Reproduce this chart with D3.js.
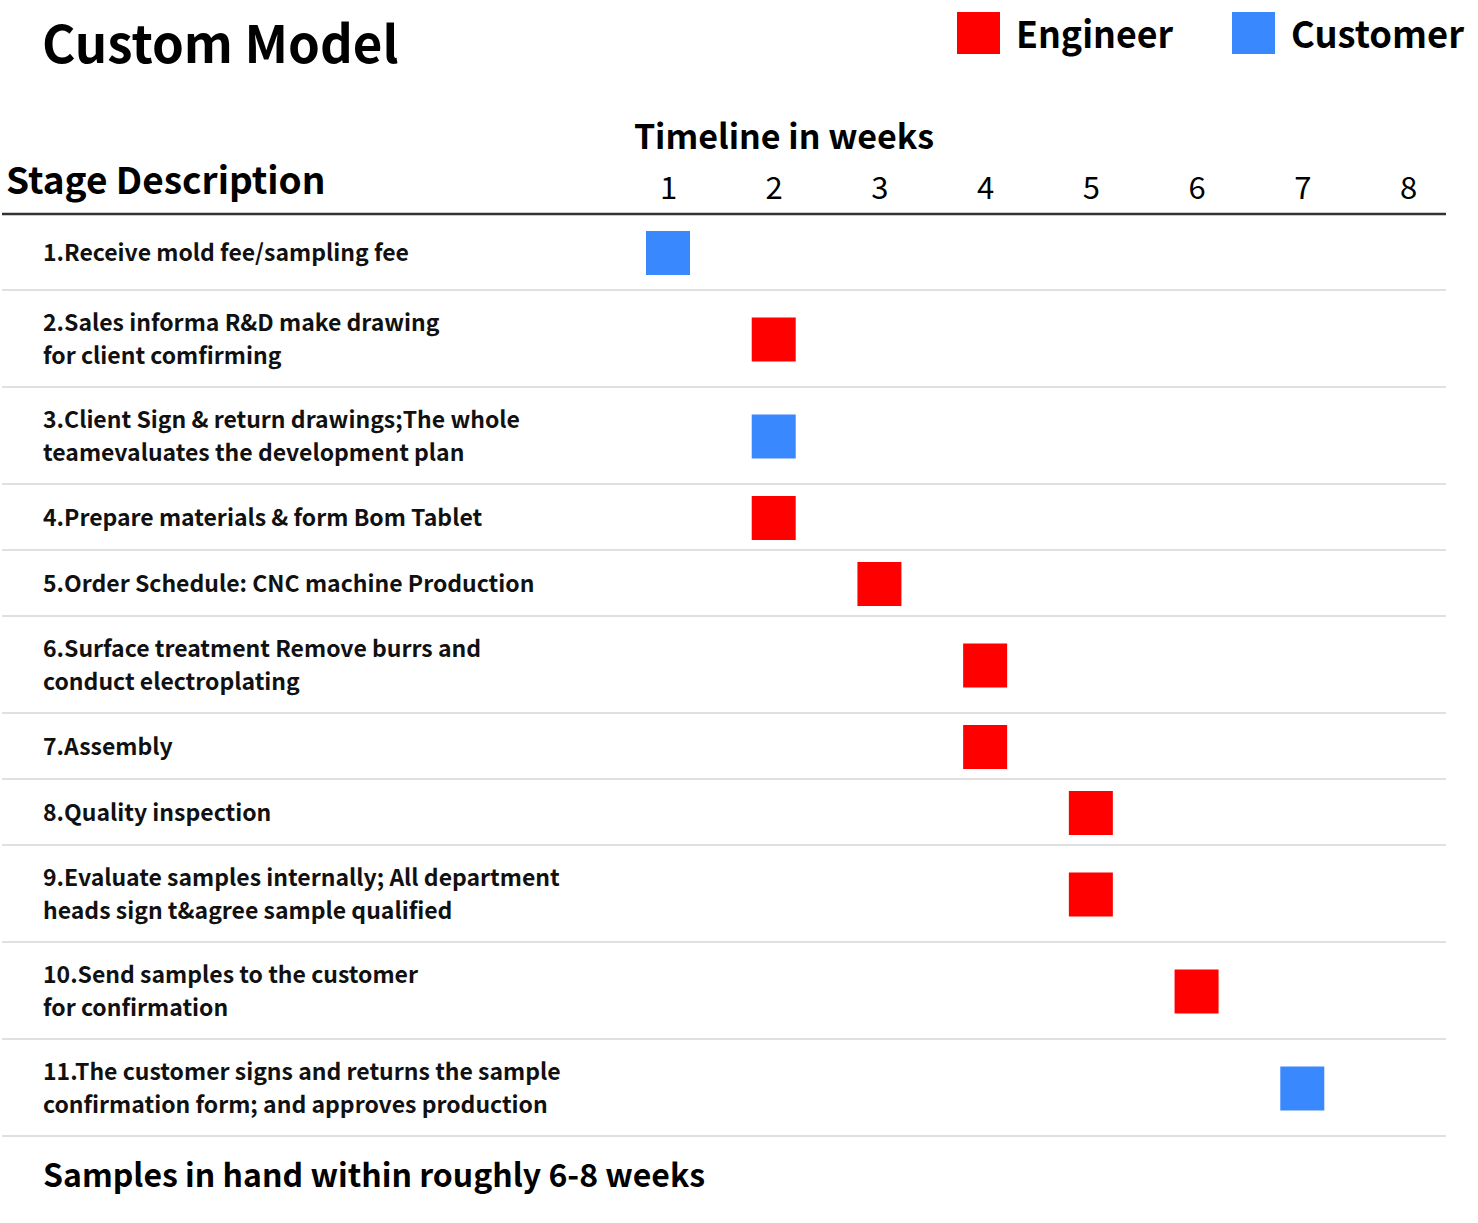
<!DOCTYPE html>
<html>
<head>
<meta charset="utf-8">
<script src="https://cdn.jsdelivr.net/npm/d3@7"></script>
<style>
  body { margin: 0; background: #fff; }
  text { font-family: "Noto Sans CJK SC", "Source Sans Pro", "Noto Sans", sans-serif; }
</style>
</head>
<body>
<svg id="chart"></svg>
<script>
// Stage labels (each entry is one row, lines split as in the picture)
const stages = [
  ['1.Receive mold fee/sampling fee'],
  ['2.Sales informa R&D make drawing', 'for client comfirming'],
  ['3.Client Sign & return drawings;The whole', 'teamevaluates the development plan'],
  ['4.Prepare materials & form Bom Tablet'],
  ['5.Order Schedule: CNC machine Production'],
  ['6.Surface treatment Remove burrs and', 'conduct electroplating'],
  ['7.Assembly'],
  ['8.Quality inspection'],
  ['9.Evaluate samples internally; All department', 'heads sign t&agree sample qualified'],
  ['10.Send samples to the customer', 'for confirmation'],
  ['11.The customer signs and returns the sample', 'confirmation form; and approves production']
];
const stageWeeks = [1, 2, 2, 2, 3, 4, 4, 5, 5, 6, 7];
const stageOwners = ['Customer', 'Engineer', 'Customer', 'Engineer', 'Engineer', 'Engineer',
  'Engineer', 'Engineer', 'Engineer', 'Engineer', 'Customer'];
const weekTicks = [1, 2, 3, 4, 5, 6, 7, 8];
const owners = ['Engineer', 'Customer'];

const width = 1478, height = 1223;
const svg = d3.select('#chart').attr('width', width).attr('height', height);

const color = d3.scaleOrdinal().domain(owners).range(['#ff0000', '#3a88fe']);

// x: week position
const x = d3.scaleLinear().domain([1, 8]).range([668, 1408]);

// rows: height depends on number of text lines, first row has extra top padding
const tableTop = 214;
const rowH = (n, i) => (n === 1 ? 66 : 97) + (i === 0 ? 10 : 0);
const rowTops = [];
let acc = tableTop;
stages.forEach((s, i) => { rowTops.push(acc); acc += rowH(s.length, i); });
const tableBottom = acc;
const rowMid = i => rowTops[i] + rowH(stages[i].length, i) / 2;

// Title
svg.append('text')
  .attr('x', 42).attr('y', 63)
  .attr('font-size', 51).attr('font-weight', 'bold')
  .attr('fill', '#000')
  .text('Custom Model');

// Legend
const legend = svg.append('g');
const legendX = [957, 1232];
const legendW = [157, 173];
owners.forEach((o, i) => {
  legend.append('rect')
    .attr('x', legendX[i]).attr('y', 12)
    .attr('width', 43).attr('height', 42)
    .attr('fill', color(o));
  legend.append('text')
    .attr('x', legendX[i] + 59).attr('y', 48)
    .attr('font-size', 37).attr('font-weight', 'bold')
    .attr('textLength', legendW[i])
    .attr('lengthAdjust', 'spacingAndGlyphs')
    .text(o);
});

// Headers
svg.append('text')
  .attr('x', 784).attr('y', 149)
  .attr('text-anchor', 'middle')
  .attr('font-size', 34).attr('font-weight', 'bold')
  .text('Timeline in weeks');

svg.append('text')
  .attr('x', 6).attr('y', 194)
  .attr('font-size', 37).attr('font-weight', 'bold')
  .text('Stage Description');

// Week axis
const axis = svg.append('g')
  .attr('transform', 'translate(0,' + 199 + ')')
  .call(d3.axisTop(x).tickValues(weekTicks).tickSize(0).tickPadding(0).tickFormat(d3.format('d')));
axis.select('.domain').remove();
axis.selectAll('text')
  .attr('font-family', '"Noto Sans CJK SC", "Source Sans Pro", sans-serif')
  .attr('font-size', 31)
  .attr('fill', '#000');

// Row separators
svg.selectAll('.sep')
  .data(stages)
  .enter()
  .append('line')
  .attr('class', 'sep')
  .attr('x1', 2).attr('x2', 1446)
  .attr('y1', (d, i) => rowTops[i] + rowH(d.length, i))
  .attr('y2', (d, i) => rowTops[i] + rowH(d.length, i))
  .attr('stroke', '#c2c2c2')
  .attr('stroke-width', 1.2);

// Header line
svg.append('line')
  .attr('x1', 2).attr('x2', 1446)
  .attr('y1', tableTop).attr('y2', tableTop)
  .attr('stroke', '#333')
  .attr('stroke-width', 2.5);

// Stage labels
const lineGap = 33;
svg.selectAll('.stage')
  .data(stages)
  .enter()
  .append('text')
  .attr('class', 'stage')
  .attr('font-size', 23).attr('font-weight', 'bold')
  .attr('fill', '#111')
  .each(function (d, i) {
    const first = rowMid(i) + 9 - (d.length - 1) * lineGap / 2;
    d3.select(this).selectAll('tspan')
      .data(d)
      .enter()
      .append('tspan')
      .attr('x', 43)
      .attr('y', (l, j) => first + j * lineGap)
      .text(l => l);
  });

// Squares
const sq = 44;
svg.selectAll('.mark')
  .data(stages)
  .enter()
  .append('rect')
  .attr('class', 'mark')
  .attr('x', (d, i) => x(stageWeeks[i]) - sq / 2)
  .attr('y', (d, i) => rowMid(i) - sq / 2 + 1)
  .attr('width', sq).attr('height', sq)
  .attr('fill', (d, i) => color(stageOwners[i]));

// Footer
svg.append('text')
  .attr('x', 43).attr('y', tableBottom + 51)
  .attr('font-size', 32).attr('font-weight', 'bold')
  .text('Samples in hand within roughly 6-8 weeks');
</script>
</body>
</html>
